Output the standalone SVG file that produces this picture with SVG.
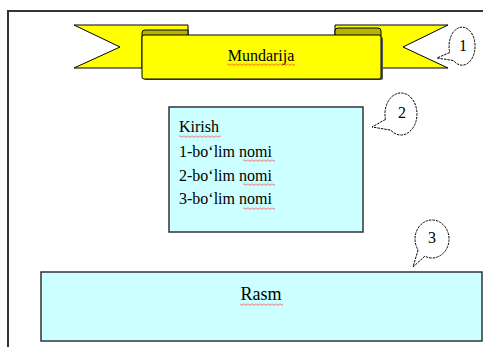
<svg xmlns="http://www.w3.org/2000/svg" width="483" height="347" viewBox="0 0 483 347">
<defs>
<style>
.box{fill:#ccffff;stroke:#333;stroke-width:1.5}
.ban{fill:#ffff00;stroke:#000;stroke-width:1}
.fold{fill:#b5b500;stroke:#000;stroke-width:1}
.call{fill:#fff;stroke:#000;stroke-width:1;stroke-dasharray:2.5,1}
</style>
<pattern id="wave" width="4" height="3" patternUnits="userSpaceOnUse">
<path d="M0,0.5 L2,2.5 L4,0.5" fill="none" stroke="#ff3030" stroke-width="0.8"/>
</pattern>
</defs>
<rect width="483" height="347" fill="#fff"/>
<path d="M8,347 V11 H483" fill="none" stroke="#333" stroke-width="2"/>

<g font-family="'Liberation Serif', 'Times New Roman', serif" fill="#000">
<g id="banner">
<polygon class="ban" points="74,25 188,25 188,36 142,36 142,68 74,68 120,47"/>
<polygon class="ban" points="448,25 335,25 335,36 381,36 381,68 448,68 403,47"/>
<path class="fold" d="M142,36 V33 Q142,30 145,30 H188 V36 Z"/>
<path class="fold" d="M335,36 V31 Q335,28 338,28 H378 Q381,28 381,31 V36 Z"/>
<rect x="144" y="37" width="239" height="43" rx="2" fill="#555"/>
<rect class="ban" x="142" y="35" width="239" height="44" rx="2"/>
<text x="261" y="61" font-size="16" text-anchor="middle">Mundarija</text>
<rect x="227" y="63" width="68" height="3" fill="url(#wave)"/>
</g>

<g id="contents">
<rect class="box" x="169" y="107" width="194" height="125"/>
<text x="179" y="132" font-size="16">Kirish</text>
<text x="179" y="157" font-size="16">1-bo‘lim nomi</text>
<text x="179" y="181" font-size="16">2-bo‘lim nomi</text>
<text x="179" y="204" font-size="16">3-bo‘lim nomi</text>
<rect x="179" y="135" width="42" height="3" fill="url(#wave)"/>
<rect x="243" y="159" width="32" height="3" fill="url(#wave)"/>
<rect x="243" y="183" width="32" height="3" fill="url(#wave)"/>
<rect x="243" y="207" width="32" height="3" fill="url(#wave)"/>
</g>

<g id="picture">
<rect class="box" x="41" y="272" width="441" height="69"/>
<text x="261" y="300" font-size="18" text-anchor="middle">Rasm</text>
<rect x="240" y="303" width="43" height="3" fill="url(#wave)"/>
</g>

<g id="callout1">
<path class="call" d="M449.8,52.5 L437,58 L453.6,60.6 A13,19 0 1 0 449.8,52.5 Z"/>
<text x="463" y="51" font-size="16" text-anchor="middle">1</text>
</g>
<g id="callout2">
<path class="call" d="M385.5,119.4 L372,127 L390.7,130.1 A16,21 0 1 0 385.5,119.4 Z"/>
<text x="402" y="118" font-size="16" text-anchor="middle">2</text>
</g>
<g id="callout3">
<path class="call" d="M418.1,249.9 L413,267 L424.8,256.2 A17,19 0 1 0 418.1,249.9 Z"/>
<text x="432" y="243" font-size="16" text-anchor="middle">3</text>
</g>
</g>
</svg>
